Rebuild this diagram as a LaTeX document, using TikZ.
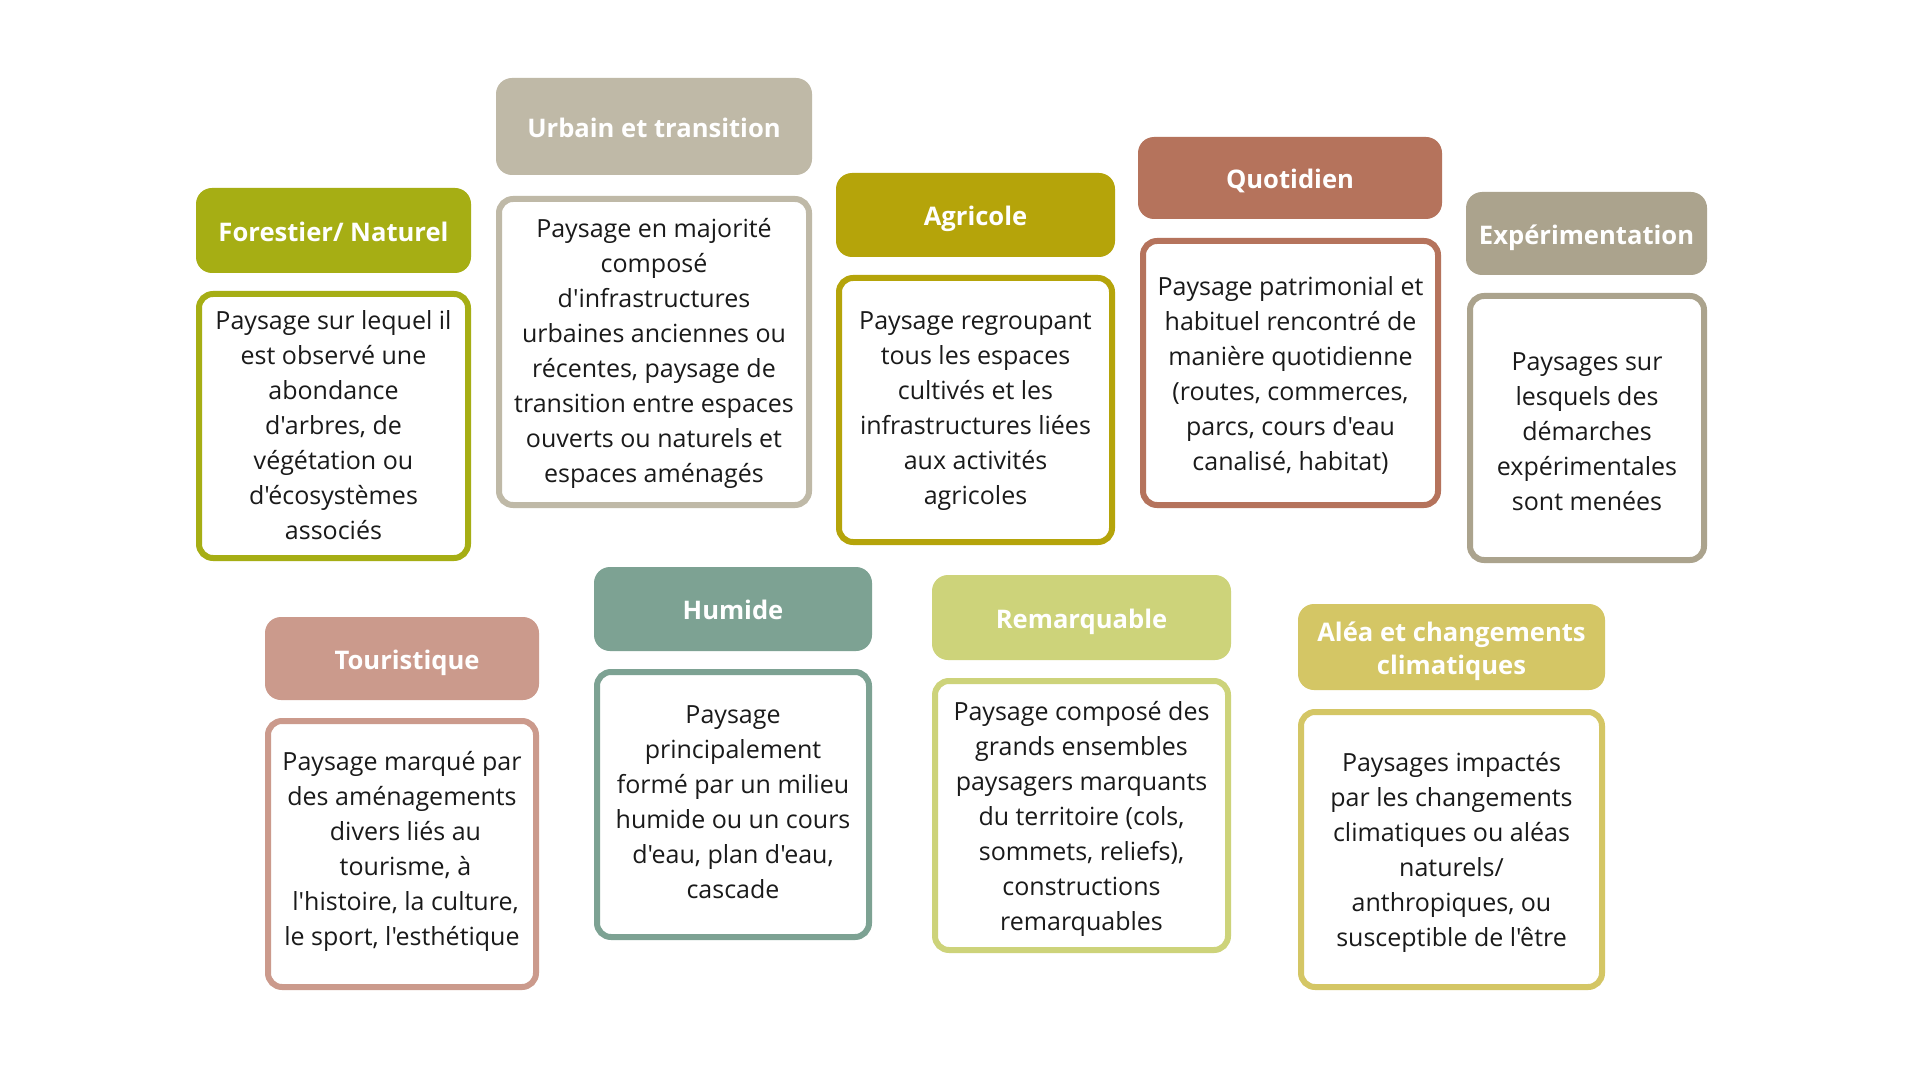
\documentclass[tikz,border=0pt]{standalone}
\usepackage{fontspec}
\newfontfamily\osans{Open Sans}
\definecolor{cForest}{HTML}{A6AE14}
\definecolor{cUrbain}{HTML}{BFB9A7}
\definecolor{cAgri}{HTML}{B5A40A}
\definecolor{cQuot}{HTML}{B5735C}
\definecolor{cExp}{HTML}{ABA38D}
\definecolor{cTour}{HTML}{CB9A8C}
\definecolor{cHum}{HTML}{7DA293}
\definecolor{cRem}{HTML}{CDD37A}
\definecolor{cAlea}{HTML}{D4C665}
\definecolor{cText}{HTML}{1A1A1A}
\tikzset{
  headbox/.style={rectangle, rounded corners=8pt, draw=none, inner sep=0pt, outer sep=0pt,
    text=white, font=\osans\bfseries\fontsize{12.8}{16.5}\selectfont},
  bodybox/.style={rectangle, rounded corners=7pt, line width=3pt, fill=white, inner sep=0pt, outer sep=0pt,
    text=cText, font=\osans\fontsize{12.5}{17.5}\selectfont}
}
% name, colour, x1, y1, x2, y2, text  (pixel coordinates, y downwards)
\newcommand\cardhead[7]{%
  \node[headbox, fill=#2, minimum width={(#5-#3)*0.5pt}, minimum height={(#6-#4)*0.5pt}]
    (#1) at ({(#3+#5)/2},{(#4+#6)/2})
    {\raisebox{-5.05pt}[0pt][0pt]{\begin{tabular}{@{}c@{}}#7\end{tabular}}};}
% [raise], name, colour, x1, y1, x2, y2, text
\newcommand\cardbody[8][-3.4]{%
  \node[bodybox, draw=#3, minimum width={(#6-#4-6)*0.5pt}, minimum height={(#7-#5-6)*0.5pt}]
    (#2) at ({(#4+#6)/2},{(#5+#7)/2})
    {\raisebox{#1pt}[0pt][0pt]{\begin{tabular}{@{}c@{}}#8\end{tabular}}};}
\newcommand\lsp{\hspace*{3.5pt}}
\begin{document}
\begin{tikzpicture}[x=0.5pt, y=-0.5pt]
\useasboundingbox[fill=white] (0,0) rectangle (1920,1080);

\cardhead{hForest}{cForest}{196}{188}{471}{273}{Forestier/ Naturel}
\cardbody[-3.7]{bForest}{cForest}{196}{291}{471}{561}{Paysage sur lequel il\\est observé une\\abondance\\d'arbres, de\\végétation ou\\d'écosystèmes\\associés}

\cardhead{hUrb}{cUrbain}{496}{78}{812}{175}{Urbain et transition}
\cardbody[-3.7]{bUrb}{cUrbain}{496}{196}{812}{508}{Paysage en majorité\\composé\\d'infrastructures\\urbaines anciennes ou\\récentes, paysage de\\transition entre espaces\\ouverts ou naturels et\\espaces aménagés}

\cardhead{hAgri}{cAgri}{836}{173}{1115}{257}{Agricole}
\cardbody[-3.1]{bAgri}{cAgri}{836}{275}{1115}{545}{Paysage regroupant\\tous les espaces\\cultivés et les\\infrastructures liées\\aux activités\\agricoles}

\cardhead{hQuot}{cQuot}{1138}{137}{1442}{219}{Quotidien}
\cardbody[-4.3]{bQuot}{cQuot}{1140}{238}{1441}{508}{Paysage patrimonial et\\habituel rencontré de\\manière quotidienne\\(routes, commerces,\\parcs, cours d'eau\\canalisé, habitat)}

\cardhead{hExp}{cExp}{1466}{192}{1707}{275}{Expérimentation}
\cardbody[-5.6]{bExp}{cExp}{1467}{293}{1707}{563}{Paysages sur\\lesquels des\\démarches\\expérimentales\\sont menées}

\cardhead{hTour}{cTour}{265}{617}{539}{700}{\hspace*{5pt}Touristique}
\cardbody[-1.3]{bTour}{cTour}{265}{718}{539}{990}{Paysage marqué par\\des aménagements\\\lsp divers liés au\\\lsp tourisme, à\\\lsp l'histoire, la culture,\\le sport, l'esthétique}

\cardhead{hHum}{cHum}{594}{567}{872}{651}{Humide}
\cardbody[-2.5]{bHum}{cHum}{594}{669}{872}{940}{Paysage\\principalement\\formé par un milieu\\humide ou un cours\\d'eau, plan d'eau,\\cascade}

\cardhead{hRem}{cRem}{932}{575}{1231}{660}{Remarquable}
\cardbody[-4.3]{bRem}{cRem}{932}{678}{1231}{953}{Paysage composé des\\grands ensembles\\paysagers marquants\\du territoire (cols,\\sommets, reliefs),\\constructions\\remarquables}

\cardhead{hAlea}{cAlea}{1298}{604}{1605}{690}{Aléa et changements\\climatiques}
\cardbody[-4.3]{bAlea}{cAlea}{1298}{709}{1605}{990}{Paysages impactés\\par les changements\\climatiques ou aléas\\naturels/\\anthropiques, ou\\susceptible de l'être}
\end{tikzpicture}
\end{document}
